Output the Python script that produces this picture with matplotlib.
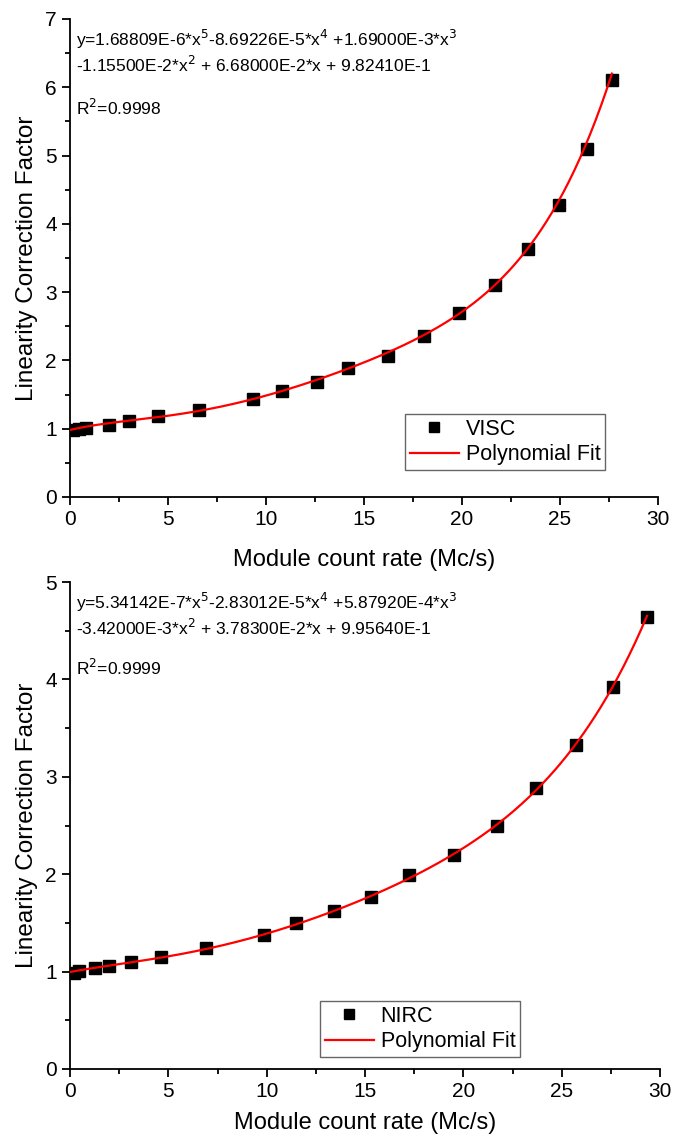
import numpy as np
import matplotlib
matplotlib.use("Agg")
import matplotlib.pyplot as plt
from matplotlib.ticker import MultipleLocator

plt.rcParams['font.family'] = ['Liberation Sans', 'DejaVu Sans']

# VISC data
visc_x = [0.17, 0.45, 0.81, 1.99, 3.0, 4.51, 6.6, 9.32, 10.84, 12.58, 14.16, 16.22, 18.05, 19.87, 21.66, 23.37,
          24.94, 26.38, 27.65]
visc_y = [0.98, 0.99, 1.01, 1.06, 1.11, 1.18, 1.27, 1.44, 1.55, 1.69, 1.89, 2.07, 2.36, 2.69, 3.10, 3.63, 4.28,
          5.09, 6.11]
# fit coefficients, highest power first (from the chart annotation)
visc_coef = [1.68809E-6, -8.69226E-5, 1.69000E-3, -1.15500E-2, 6.68000E-2, 9.82410E-1]

# NIRC data
nirc_x = [0.18, 0.48, 1.27, 1.96, 3.09, 4.64, 6.91, 9.86, 11.5, 13.43, 15.32, 17.23, 19.53, 21.73, 23.71, 25.75,
          27.63, 29.34]
nirc_y = [0.99, 1.01, 1.04, 1.06, 1.10, 1.15, 1.24, 1.38, 1.50, 1.62, 1.77, 1.99, 2.20, 2.49, 2.88, 3.33, 3.92,
          4.64]
nirc_coef = [5.34142E-7, -2.83012E-5, 5.87920E-4, -3.42000E-3, 3.78300E-2, 9.95640E-1]

visc_eq = ("y=1.68809E-6*x$^5$-8.69226E-5*x$^4$ +1.69000E-3*x$^3$\n"
           "-1.15500E-2*x$^2$ + 6.68000E-2*x + 9.82410E-1")
nirc_eq = ("y=5.34142E-7*x$^5$-2.83012E-5*x$^4$ +5.87920E-4*x$^3$\n"
           "-3.42000E-3*x$^2$ + 3.78300E-2*x + 9.95640E-1")

fig = plt.figure(figsize=(6.76, 11.4), dpi=100)
ax1 = fig.add_axes([70 / 676, 1 - 497 / 1140, 588 / 676, 478 / 1140])
ax2 = fig.add_axes([70 / 676, 1 - 1069 / 1140, 590 / 676, 487 / 1140])


def panel(ax, xs, ys, coef, label, eq, r2, ymax, leg_loc, r2_y, xpad):
    xf = np.linspace(0, max(xs), 300)
    ax.plot(xs, ys, 's', color='black', markersize=8, label=label, zorder=3)
    ax.plot(xf, np.polyval(coef, xf), '-', color='red', linewidth=1.6, label='Polynomial Fit', zorder=4)
    ax.set_xlim(0, 30)
    ax.set_ylim(0, ymax)
    ax.xaxis.set_major_locator(MultipleLocator(5))
    ax.xaxis.set_minor_locator(MultipleLocator(2.5))
    ax.yaxis.set_major_locator(MultipleLocator(1))
    ax.yaxis.set_minor_locator(MultipleLocator(0.5))
    for s in ['top', 'right']:
        ax.spines[s].set_visible(False)
    for s in ['left', 'bottom']:
        ax.spines[s].set_linewidth(1.3)
    ax.tick_params(which='major', direction='out', length=6, width=1.3, labelsize=15)
    ax.tick_params(which='minor', direction='out', length=3.5, width=1.3)
    ax.set_xlabel('Module count rate (Mc/s)', fontsize=17, labelpad=xpad)
    ax.set_ylabel('Linearity Correction Factor', fontsize=17.5, labelpad=5)
    ax.text(0.01, 0.982, eq, transform=ax.transAxes, ha='left', va='top', fontsize=12.5, linespacing=1.25)
    ax.text(0.01, r2_y, 'R$^2$=' + r2, transform=ax.transAxes, ha='left', va='top', fontsize=12.5)
    leg = ax.legend(loc='lower left', bbox_to_anchor=leg_loc, fontsize=15.5, frameon=True, fancybox=False,
                    borderpad=0.22, handlelength=2.3, handletextpad=0.3, labelspacing=0.2, borderaxespad=0,
                    markerscale=0.9)
    leg.get_frame().set_edgecolor('#404040')
    leg.get_frame().set_linewidth(1.0)


panel(ax1, visc_x, visc_y, visc_coef, 'VISC', visc_eq, '0.9998', 7, (335 / 588, 27 / 478), 0.835, 14)
panel(ax2, nirc_x, nirc_y, nirc_coef, 'NIRC', nirc_eq, '0.9999', 5, (250 / 590, 12 / 487), 0.845, 8)

plt.savefig('out.png', dpi=100)
